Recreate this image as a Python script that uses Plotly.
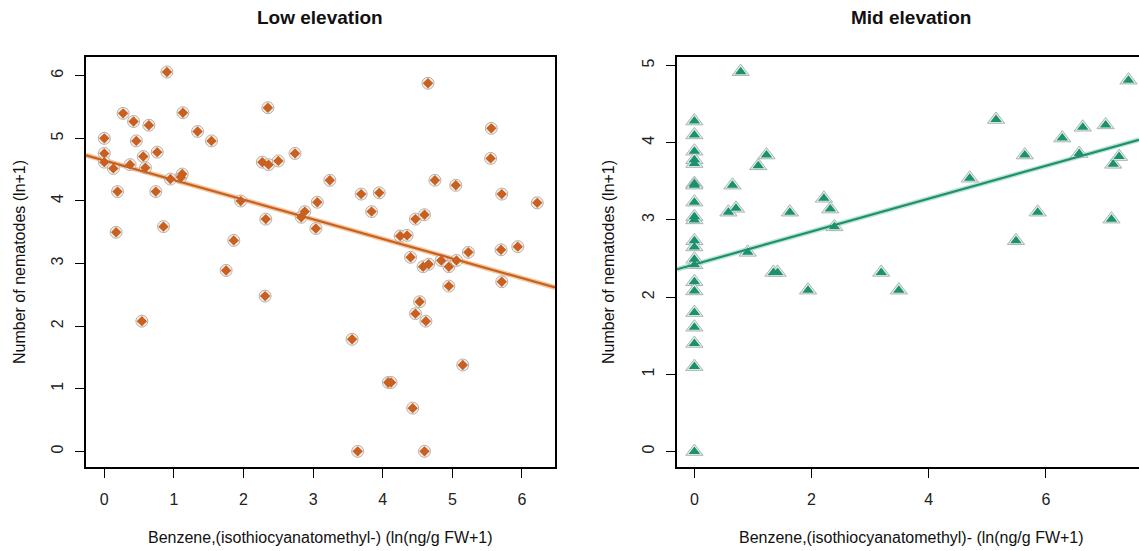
import numpy as np
import plotly.graph_objects as go

# ---------------- data ----------------
low_x = [0.0, 0.0, 0.0, 0.13, 0.19, 0.17, 0.27, 0.42, 0.46, 0.37, 0.56, 0.59, 0.64, 0.76, 0.74,
         0.85, 0.90, 0.95, 1.10, 1.12, 1.34, 1.54, 1.13, 1.75, 1.86, 1.96, 2.27, 2.36, 2.35, 2.32,
         2.50, 2.74, 2.83, 2.88, 3.04, 3.06, 3.24, 3.69, 3.84, 3.95, 4.25, 4.35, 4.40, 4.47, 4.60,
         4.58, 4.66, 4.65, 4.75, 4.84, 4.95, 5.05, 5.06, 5.23, 5.56, 5.55, 5.71, 5.70, 5.94, 6.22,
         5.71, 4.95, 2.31, 4.53, 4.47, 4.62, 0.54, 3.56, 5.15, 4.08, 4.12, 4.43, 3.64, 4.60]
low_y = [5.00, 4.76, 4.62, 4.52, 4.15, 3.50, 5.40, 5.27, 4.96, 4.58, 4.71, 4.53, 5.21, 4.78, 4.15,
         3.59, 6.06, 4.35, 4.38, 4.43, 5.11, 4.96, 5.41, 2.89, 3.37, 4.00, 4.62, 4.58, 5.49, 3.71,
         4.64, 4.76, 3.74, 3.83, 3.56, 3.98, 4.33, 4.11, 3.83, 4.13, 3.44, 3.45, 3.10, 3.71, 3.78,
         2.95, 2.99, 5.88, 4.33, 3.05, 2.95, 4.25, 3.05, 3.18, 5.16, 4.68, 4.11, 3.22, 3.27, 3.97,
         2.71, 2.64, 2.48, 2.39, 2.20, 2.08, 2.08, 1.79, 1.38, 1.10, 1.10, 0.69, 0.00, 0.00]

mid_x = [0.0] * 21 + [0.79, 0.65, 0.58, 0.71, 1.09, 1.23, 0.91, 1.63, 2.21, 2.32, 2.39, 1.35, 1.42,
                      3.19, 1.94, 3.49, 4.70, 5.15, 5.49, 5.64, 5.86, 6.28, 6.57, 6.63, 7.02, 7.12,
                      7.15, 7.25, 7.41]
mid_y = [4.28, 4.10, 3.89, 3.78, 3.73, 3.47, 3.45, 3.23, 3.04, 3.00, 2.73, 2.65, 2.49, 2.42, 2.20,
         2.08, 1.80, 1.61, 1.40, 1.10, 0.00,
         4.92, 3.45, 3.10, 3.15, 3.70, 3.84, 2.58, 3.10, 3.28, 3.14, 2.91, 2.32, 2.32,
         2.32, 2.09, 2.09, 3.54, 4.30, 2.73, 3.84, 3.10, 4.06, 3.86, 4.20, 4.23, 3.01,
         3.72, 3.82, 4.81]

# regression lines (intercept, slope) as shown in the chart
low_fit = (4.648, -0.3135)
mid_fit = (2.424, 0.2127)

titles = ["Low elevation", "Mid elevation"]
xlabel_low = "Benzene,(isothiocyanatomethyl-) (ln(ng/g FW+1)"
xlabel_mid = "Benzene,(isothiocyanatomethyl)- (ln(ng/g FW+1)"
ylabel = "Number of nematodes (ln+1)"
low_xticks = [0, 1, 2, 3, 4, 5, 6]
low_yticks = [0, 1, 2, 3, 4, 5, 6]
mid_xticks = [0, 2, 4, 6]
mid_yticks = [0, 1, 2, 3, 4, 5]

# ---------------- style ----------------
W, H = 1139, 551
FONT = "Liberation Sans, Arial, Helvetica, sans-serif"
ORANGE = "#C9601F"
GREEN = "#1B9170"
low_xrange = [-0.263, 6.475]
low_yrange = [-0.25, 6.30]
mid_xrange = [-0.297, 7.59]
mid_yrange = [-0.20, 5.11]

def px_x(p):
    return p / W

def px_y(p):
    return 1 - p / H

fig = go.Figure()

def line_pts(fit, xr):
    xs = np.array(xr)
    return xs, fit[0] + fit[1] * xs

# low elevation
lx, ly = line_pts(low_fit, low_xrange)
fig.add_trace(go.Scatter(x=lx, y=ly, mode="lines", line=dict(color="#F2C9A2", width=5),
                         xaxis="x", yaxis="y", hoverinfo="skip"))
fig.add_trace(go.Scatter(x=low_x, y=low_y, mode="markers",
                         marker=dict(symbol="circle", size=12, color="#F4EFEA",
                                     line=dict(color="#B8B0A8", width=1)),
                         xaxis="x", yaxis="y", hoverinfo="skip"))
fig.add_trace(go.Scatter(x=low_x, y=low_y, mode="markers",
                         marker=dict(symbol="diamond", size=8, color=ORANGE, line=dict(width=0)),
                         xaxis="x", yaxis="y"))
fig.add_trace(go.Scatter(x=lx, y=ly, mode="lines", line=dict(color=ORANGE, width=2.2),
                         xaxis="x", yaxis="y", hoverinfo="skip"))

# mid elevation
mx, my = line_pts(mid_fit, mid_xrange)
fig.add_trace(go.Scatter(x=mx, y=my, mode="lines", line=dict(color="#BFE3D6", width=5),
                         xaxis="x2", yaxis="y2", hoverinfo="skip"))
fig.add_trace(go.Scatter(x=mid_x, y=mid_y, mode="markers",
                         marker=dict(symbol="triangle-up", size=15, color="#E4F0EB",
                                     line=dict(color="#A8B4B0", width=1)),
                         xaxis="x2", yaxis="y2", hoverinfo="skip"))
fig.add_trace(go.Scatter(x=mid_x, y=mid_y, mode="markers",
                         marker=dict(symbol="triangle-up", size=10, color=GREEN, line=dict(width=0)),
                         xaxis="x2", yaxis="y2"))
fig.add_trace(go.Scatter(x=mx, y=my, mode="lines", line=dict(color=GREEN, width=2.2),
                         xaxis="x2", yaxis="y2", hoverinfo="skip"))

axis_common = dict(showgrid=False, zeroline=False, showline=True, linecolor="black", linewidth=1.6,
                   ticks="outside", ticklen=9, tickwidth=1.4, tickcolor="black",
                   tickfont=dict(family=FONT, size=16, color="#222222"))

top_px, bot_px = 57, 467
fig.update_layout(
    width=W, height=H, margin=dict(l=0, r=0, t=0, b=0),
    paper_bgcolor="white", plot_bgcolor="white", showlegend=False,
    xaxis=dict(domain=[px_x(86), px_x(555)], range=low_xrange, tickvals=low_xticks,
               mirror=True, anchor="y", ticklabelstandoff=8, **axis_common),
    yaxis=dict(domain=[px_y(bot_px), px_y(top_px)], range=low_yrange, tickvals=low_yticks,
               mirror=True, anchor="x", tickangle=-90, ticklabelstandoff=6, **axis_common),
    xaxis2=dict(domain=[px_x(677), 1.0], range=mid_xrange, tickvals=mid_xticks,
                mirror=True, anchor="y2", ticklabelstandoff=8, **axis_common),
    yaxis2=dict(domain=[px_y(bot_px), px_y(top_px)], range=mid_yrange, tickvals=mid_yticks,
                mirror=False, anchor="x2", tickangle=-90, ticklabelstandoff=6, **axis_common),
)

def ann(text, x, y, size, bold=False, angle=0):
    fig.add_annotation(text=f"<b>{text}</b>" if bold else text, x=px_x(x), y=px_y(y),
                       xref="paper", yref="paper", showarrow=False, textangle=angle,
                       xanchor="center", yanchor="middle",
                       font=dict(family=FONT, size=size, color="#111111"))

ann(titles[0], 320, 18, 19, bold=True)
ann(titles[1], 911, 18, 19, bold=True)
ann(xlabel_low, 320, 537, 16)
ann(xlabel_mid, 911, 537, 16)
ann(ylabel, 19, 262, 16, angle=-90)
ann(ylabel, 608, 262, 16, angle=-90)

fig.write_html("out.html")
